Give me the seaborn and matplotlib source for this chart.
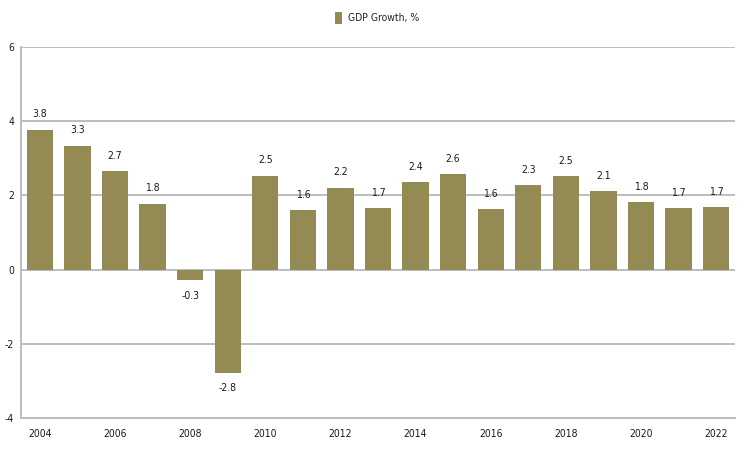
import matplotlib
matplotlib.use("Agg")
import matplotlib.pyplot as plt
import seaborn as sns
import pandas as pd
from matplotlib.patches import Patch

years = [str(y) for y in range(2004, 2023)]
gdp_growth = [3.77, 3.34, 2.66, 1.78, -0.29, -2.78, 2.53, 1.60, 2.21, 1.66,
              2.36, 2.58, 1.62, 2.27, 2.51, 2.11, 1.81, 1.66, 1.68]
y_ticks = [-4, -2, 0, 2, 4, 6]
series_name = "GDP Growth, %"

sns.set_theme(style="white")
plt.rcParams['font.family'] = ['DejaVu Sans']
plt.rcParams['font.stretch'] = 'condensed'

bar_color = "#948a54"
grid_color = "#bdbdbd"
text_color = "#1a1a1a"

df = pd.DataFrame({"year": years, "gdp": gdp_growth})

fig = plt.figure(figsize=(7.39, 4.5), dpi=100)
ax = fig.add_axes([0.0284, 0.0711, 0.9662, 0.8245])

sns.barplot(data=df, x="year", y="gdp", color=bar_color, width=0.7,
            saturation=1, ax=ax, zorder=3, linewidth=0, edgecolor="none")

ax.set_ylim(-4, 6)
ax.set_xlim(-0.5, len(years) - 0.5)
ax.set_yticks(y_ticks)
ax.set_yticklabels([str(t) for t in y_ticks], fontsize=7.5, color=text_color,
                   stretch='condensed')
for t in y_ticks:
    ax.axhline(t, color=grid_color, lw=1.4, zorder=1)

ax.set_xticks(range(len(years)))
ax.set_xticklabels([y if i % 2 == 0 else "" for i, y in enumerate(years)],
                   fontsize=7.5, color=text_color, stretch='condensed')
ax.set_xticks([i + 0.5 for i in range(len(years) - 1)], minor=True)
ax.tick_params(axis="x", which="major", length=0, pad=8)
ax.tick_params(axis="x", which="minor", length=5, color=grid_color, width=1, direction="out")
ax.tick_params(axis="y", length=0, pad=5)

ax.set_xlabel("")
ax.set_ylabel("")
for s in ["top", "right"]:
    ax.spines[s].set_visible(False)
for s in ["left", "bottom"]:
    ax.spines[s].set_color(grid_color)
    ax.spines[s].set_linewidth(1.4)

for i, v in enumerate(gdp_growth):
    off = 11 if v >= 0 else -11
    ax.annotate(f"{v:.1f}", (i, v), xytext=(0, off), textcoords="offset points",
                ha="center", va="center", fontsize=7.5, color=text_color,
                stretch='condensed')

handles = [Patch(facecolor=bar_color, edgecolor="none", label=series_name)]
fig.legend(handles=handles, loc="center", bbox_to_anchor=(0.51, 0.96),
           frameon=False, handlelength=0.7, handleheight=1.3,
           handletextpad=0.5, prop={'size': 7.5, 'stretch': 'condensed'})

fig.savefig("out.png", dpi=100)
